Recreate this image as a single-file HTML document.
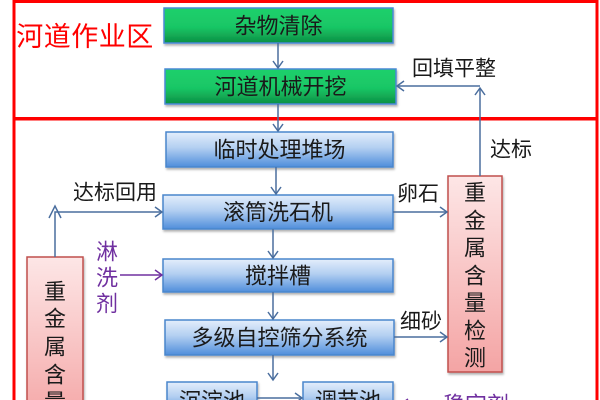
<!DOCTYPE html>
<html><head><meta charset="utf-8">
<style>
html,body{margin:0;padding:0;background:#fff;width:600px;height:400px;overflow:hidden;}
svg{display:block;}
text{font-family:"Liberation Sans","Noto Sans CJK SC",sans-serif;}
</style></head>
<body>
<svg width="600" height="400" viewBox="0 0 600 400" xmlns="http://www.w3.org/2000/svg">
<defs>
<linearGradient id="gb" x1="0" y1="0" x2="0" y2="1">
<stop offset="0" stop-color="#e4eefb"/>
<stop offset="0.45" stop-color="#b3cff1"/>
<stop offset="1" stop-color="#4f8edb"/>
</linearGradient>
<linearGradient id="gg" x1="0" y1="0" x2="0" y2="1">
<stop offset="0" stop-color="#1dd06c"/>
<stop offset="0.55" stop-color="#19c665"/>
<stop offset="1" stop-color="#0c8f44"/>
</linearGradient>
<linearGradient id="gp" x1="0" y1="0" x2="0" y2="1">
<stop offset="0" stop-color="#fde6e6"/>
<stop offset="1" stop-color="#f4a4a4"/>
</linearGradient>
<marker id="ar" markerWidth="10" markerHeight="12" refX="8" refY="6" orient="auto" markerUnits="userSpaceOnUse">
<path d="M1,1 L8,6 L1,11" fill="none" stroke="#4a6e9e" stroke-width="1.5"/>
</marker>
<marker id="ap" markerWidth="10" markerHeight="12" refX="8" refY="6" orient="auto" markerUnits="userSpaceOnUse">
<path d="M1,1 L8,6 L1,11" fill="none" stroke="#7030a0" stroke-width="1.5"/>
</marker>
<filter id="sh" x="-10%" y="-10%" width="120%" height="130%">
<feDropShadow dx="1" dy="2" stdDeviation="1" flood-color="#000" flood-opacity="0.3"/>
</filter>
</defs>

<!-- red frames -->
<rect x="14" y="1.5" width="583" height="117" fill="none" stroke="#ff0000" stroke-width="3"/>
<rect x="14" y="119" width="583" height="300" fill="none" stroke="#ff0000" stroke-width="3"/>

<text x="85" y="37" font-size="27" fill="#ff0000" text-anchor="middle" dominant-baseline="central" letter-spacing="0.5">河道作业区</text>

<!-- green boxes -->
<rect x="164" y="8" width="229" height="35" fill="url(#gg)" stroke="#4a88d6" stroke-width="1.5" filter="url(#sh)"/>
<text x="278.5" y="26" font-size="22" text-anchor="middle" dominant-baseline="central" fill="#1a1a1a">杂物清除</text>
<rect x="165" y="69" width="231" height="35" fill="url(#gg)" stroke="#4a88d6" stroke-width="1.5" filter="url(#sh)"/>
<text x="280.5" y="87" font-size="22" text-anchor="middle" dominant-baseline="central" fill="#1a1a1a">河道机械开挖</text>

<!-- blue boxes -->
<rect x="166" y="132" width="227" height="35" fill="url(#gb)" stroke="#4a86cc" stroke-width="1.5" filter="url(#sh)"/>
<text x="279.5" y="150" font-size="22" text-anchor="middle" dominant-baseline="central" fill="#1a1a1a">临时处理堆场</text>
<rect x="163" y="195" width="230" height="34" fill="url(#gb)" stroke="#4a86cc" stroke-width="1.5" filter="url(#sh)"/>
<text x="278" y="212.5" font-size="22" text-anchor="middle" dominant-baseline="central" fill="#1a1a1a">滚筒洗石机</text>
<rect x="163" y="259" width="230" height="33" fill="url(#gb)" stroke="#4a86cc" stroke-width="1.5" filter="url(#sh)"/>
<text x="278" y="276" font-size="22" text-anchor="middle" dominant-baseline="central" fill="#1a1a1a">搅拌槽</text>
<rect x="165" y="320" width="229" height="35" fill="url(#gb)" stroke="#4a86cc" stroke-width="1.5" filter="url(#sh)"/>
<text x="279.5" y="338" font-size="22" text-anchor="middle" dominant-baseline="central" fill="#1a1a1a">多级自控筛分系统</text>
<rect x="167" y="382" width="90" height="32" fill="url(#gb)" stroke="#4a86cc" stroke-width="1.5" filter="url(#sh)"/>
<text x="212" y="401" font-size="22" text-anchor="middle" dominant-baseline="central" fill="#1a1a1a">沉淀池</text>
<rect x="303" y="382" width="90" height="32" fill="url(#gb)" stroke="#4a86cc" stroke-width="1.5" filter="url(#sh)"/>
<text x="348" y="401" font-size="22" text-anchor="middle" dominant-baseline="central" fill="#1a1a1a">调节池</text>

<!-- pink boxes -->
<rect x="448" y="176" width="54" height="196" fill="url(#gp)" stroke="#c0504d" stroke-width="1.5" filter="url(#sh)"/>
<g font-size="22" text-anchor="middle" dominant-baseline="central" fill="#1a1a1a">
<text x="475" y="193">重</text><text x="475" y="221">金</text><text x="475" y="248">属</text>
<text x="475" y="276">含</text><text x="475" y="303">量</text><text x="475" y="331">检</text>
<text x="475" y="358">测</text>
</g>
<rect x="27" y="257" width="56" height="170" fill="url(#gp)" stroke="#c0504d" stroke-width="1.5" filter="url(#sh)"/>
<g font-size="22" text-anchor="middle" dominant-baseline="central" fill="#1a1a1a">
<text x="55" y="292">重</text><text x="55" y="319">金</text><text x="55" y="347">属</text>
<text x="55" y="375">含</text><text x="55" y="402">量</text>
</g>

<!-- connectors -->
<g stroke="#4a6e9e" stroke-width="1.5" fill="none">
<line x1="278" y1="43" x2="278" y2="68" marker-end="url(#ar)"/>
<line x1="278" y1="104" x2="278" y2="131" marker-end="url(#ar)"/>
<line x1="276" y1="167" x2="276" y2="194" marker-end="url(#ar)"/>
<line x1="273" y1="229" x2="273" y2="258" marker-end="url(#ar)"/>
<line x1="273" y1="292" x2="273" y2="319" marker-end="url(#ar)"/>
<line x1="273" y1="355" x2="273" y2="380" marker-end="url(#ar)"/>
<line x1="257" y1="398" x2="302" y2="398" marker-end="url(#ar)"/>
<polyline points="480,176 480,88" marker-end="url(#ar)"/>
<line x1="480" y1="86" x2="397" y2="86" marker-end="url(#ar)"/>
<polyline points="55,257 55,212 162,212" marker-end="url(#ar)"/>
<line x1="393" y1="212" x2="447" y2="212" marker-end="url(#ar)"/>
<line x1="394" y1="337" x2="447" y2="337" marker-end="url(#ar)"/>
</g>
<path d="M49,218 L55,206 L61,218" fill="none" stroke="#4a6e9e" stroke-width="1.5"/>

<!-- purple -->
<line x1="120" y1="275" x2="162" y2="275" stroke="#7030a0" stroke-width="1.5" marker-end="url(#ap)"/>
<line x1="440" y1="404" x2="401" y2="404" stroke="#7030a0" stroke-width="1.5" marker-end="url(#ap)"/>
<g font-size="22" text-anchor="middle" dominant-baseline="central" fill="#7030a0">
<text x="107" y="252">淋</text><text x="107" y="278">洗</text><text x="107" y="304">剂</text>
<text x="476" y="405">稳定剂</text>
</g>

<!-- labels -->
<g font-size="21" dominant-baseline="central" fill="#1a1a1a">
<text x="412" y="69">回填平整</text>
<text x="490" y="150">达标</text>
<text x="73" y="193">达标回用</text>
<text x="397" y="194">卵石</text>
<text x="400" y="322">细砂</text>
</g>
</svg>
</body></html>
